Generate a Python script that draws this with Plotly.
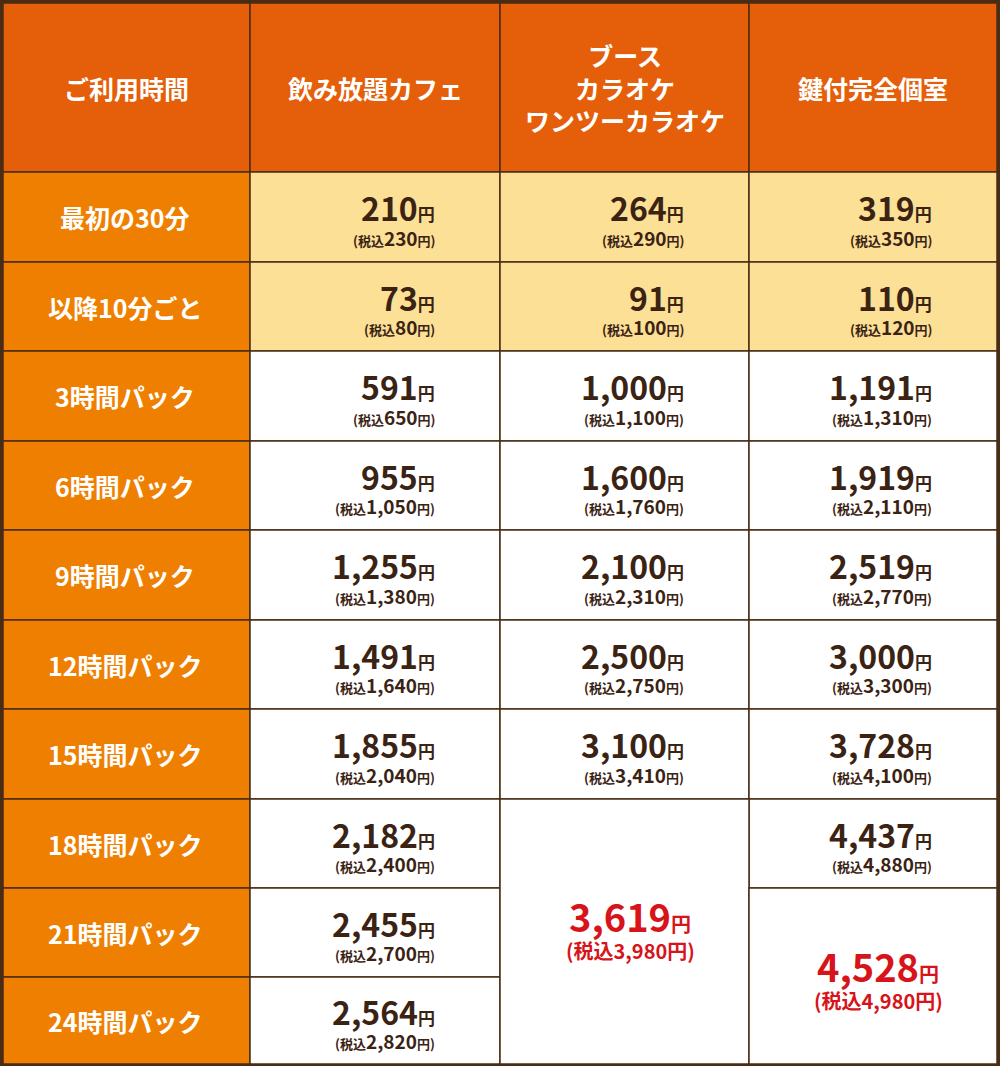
import plotly.graph_objects as go

headers = ["ご利用時間", "飲み放題カフェ", "ブース<br>カラオケ<br>ワンツーカラオケ", "鍵付完全個室"]
rows = ["最初の30分", "以降10分ごと", "3時間パック", "6時間パック", "9時間パック",
        "12時間パック", "15時間パック", "18時間パック", "21時間パック", "24時間パック"]
cafe = ["210", "73", "591", "955", "1,255", "1,491", "1,855", "2,182", "2,455", "2,564"]
cafe_tax = ["230", "80", "650", "1,050", "1,380", "1,640", "2,040", "2,400", "2,700", "2,820"]
booth = ["264", "91", "1,000", "1,600", "2,100", "2,500", "3,100", "3,619"]
booth_tax = ["290", "100", "1,100", "1,760", "2,310", "2,750", "3,410", "3,980"]
room = ["319", "110", "1,191", "1,919", "2,519", "3,000", "3,728", "4,437", "4,528"]
room_tax = ["350", "120", "1,310", "2,110", "2,770", "3,300", "4,100", "4,880", "4,980"]

BROWN = "#4a2c14"
TXT = "#3b2314"
RED = "#d7141a"
HEAD = "#e55f0a"
LAB = "#ef7f00"
YEL = "#fbe096"
FONT = "Liberation Sans Narrow, Noto Sans CJK JP"

xb = [3, 250, 500, 749, 997]
yb = [3, 172, 262, 351, 441, 530, 620, 709, 799, 888, 977, 1064]

fig = go.Figure()
fig.add_trace(go.Scatter(x=[0, 1000], y=[0, 1066], mode="markers", marker=dict(opacity=0), hoverinfo="skip"))
shapes, ann = [], []

def cell(x0, x1, y0, y1, color):
    shapes.append(dict(type="rect", xref="x", yref="y", x0=x0, x1=x1, y0=y0, y1=y1,
                       fillcolor=color, line=dict(color=BROWN, width=1.5)))

for c, h in enumerate(headers):
    cell(xb[c], xb[c + 1], yb[0], yb[1], HEAD)
    ann.append(dict(x=(xb[c] + xb[c + 1]) / 2, y=(yb[0] + yb[1]) / 2, text="<b>" + h + "</b>",
                    font=dict(size=25, color="white", family="Noto Sans CJK JP"), showarrow=False))

def price(col, r, p, t, color=TXT, big=False, yc=None, xr=None):
    ym = yc if yc is not None else (yb[r + 1] + yb[r + 2]) / 2
    if big:
        ann.append(dict(x=xr, y=ym - 10, xanchor="center", yanchor="middle",
                        text=f"<b>{p}<span style='font-size:20px'>円</span></b>",
                        font=dict(size=38, color=color, family=FONT), showarrow=False))
        ann.append(dict(x=xr, y=ym + 25, xanchor="center", yanchor="middle",
                        text=f"<b>(税込{t}円)</b>",
                        font=dict(size=20, color=color, family=FONT), showarrow=False))
    else:
        x = xb[col + 1] - 63
        ann.append(dict(x=x, y=ym - 10, xanchor="right", yanchor="middle",
                        text=f"<b>{p}<span style='font-size:17px'>円</span></b>",
                        font=dict(size=32, color=color, family=FONT), showarrow=False))
        ann.append(dict(x=x, y=ym + 20, xanchor="right", yanchor="middle",
                        text=f"<b><span style='font-size:13px'>(税込</span>{t}<span style='font-size:13px'>円)</span></b>",
                        font=dict(size=19, color=color, family=FONT), showarrow=False))

for r, lab in enumerate(rows):
    y0, y1 = yb[r + 1], yb[r + 2]
    cell(xb[0], xb[1], y0, y1, LAB)
    ann.append(dict(x=125, y=(y0 + y1) / 2, text="<b>" + lab + "</b>",
                    font=dict(size=25, color="white", family="Noto Sans CJK JP"), showarrow=False))
    bg = YEL if r < 2 else "white"
    cell(xb[1], xb[2], y0, y1, bg)
    price(1, r, cafe[r], cafe_tax[r])
    if r < 7:
        cell(xb[2], xb[3], y0, y1, bg)
        price(2, r, booth[r], booth_tax[r])
    if r < 8:
        cell(xb[3], xb[4], y0, y1, bg)
        price(3, r, room[r], room_tax[r])

cell(xb[2], xb[3], yb[8], yb[11], "white")
price(2, 7, booth[7], booth_tax[7], RED, True, yc=925, xr=630)
cell(xb[3], xb[4], yb[9], yb[11], "white")
price(3, 8, room[8], room_tax[8], RED, True, yc=975, xr=878)

fig.update_layout(width=1000, height=1066, margin=dict(l=0, r=0, t=0, b=0),
                  paper_bgcolor=BROWN, plot_bgcolor=BROWN, shapes=shapes, annotations=ann,
                  showlegend=False,
                  xaxis=dict(range=[0, 1000], visible=False, fixedrange=True),
                  yaxis=dict(range=[1066, 0], visible=False, fixedrange=True))
fig.write_html("out.html", config={"displayModeBar": False},
               post_script="document.body.style.margin='0';document.body.style.overflow='hidden';")
